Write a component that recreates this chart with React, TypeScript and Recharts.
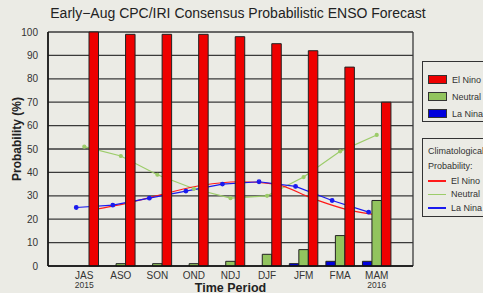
import { ComposedChart, Bar, Line, XAxis, YAxis, CartesianGrid } from 'recharts';

const categories = ['JAS', 'ASO', 'SON', 'OND', 'NDJ', 'DJF', 'JFM', 'FMA', 'MAM'];
const yearLabels = ['2015', '', '', '', '', '', '', '', '2016'];
const yTicks = [0, 10, 20, 30, 40, 50, 60, 70, 80, 90, 100];

// forecast probabilities (%)
const elNino = [100, 99, 99, 99, 98, 95, 92, 85, 70];
const neutral = [0, 1, 1, 1, 2, 5, 7, 13, 28];
const laNina = [0, 0, 0, 0, 0, 0, 1, 2, 2];

// climatological probabilities (%)
const climElNino = [24, 27, 31, 34.5, 36, 35, 29, 24, 21.5];
const climNeutral = [51, 47, 39, 33, 29, 30, 38, 49, 56];
const climLaNina = [25, 26, 29, 32, 35, 36, 34, 28, 23];

const RED = '#ee0000';
const GREEN = '#92c45e';
const BLUE = '#0000dd';
const LRED = '#ff1a1a';
const LGREEN = '#9ccc6a';
const LBLUE = '#1a1aee';
const BG = '#ebebe5';
const FONT = '"Liberation Sans", Arial, sans-serif';

const data = categories.map((name, i) => ({
  name,
  year: yearLabels[i],
  elNino: elNino[i],
  neutral: neutral[i],
  laNina: laNina[i],
}));

// lines are drawn slightly offset from the group centre, as in the original
const lineData = (vals: number[], shift: number) => vals.map((y, i) => ({ x: i + shift, y }));

const XTick = (props: any) => {
  const { x, y, payload, index } = props;
  return (
    <g>
      <text x={x} y={y + 13} textAnchor="middle" fontSize={10} fill="#333" fontFamily={FONT}>
        {payload.value}
      </text>
      <text x={x} y={y + 21.5} textAnchor="middle" fontSize={8.5} fill="#333" fontFamily={FONT}>
        {yearLabels[index]}
      </text>
    </g>
  );
};

const boxStyle: React.CSSProperties = {
  position: 'absolute',
  left: 422,
  width: 80,
  border: '1px solid #333',
  background: BG,
  fontFamily: FONT,
  fontSize: 9,
  color: '#333',
  boxSizing: 'border-box',
};

function BarLegend() {
  const items = [
    { label: 'El Nino', color: RED },
    { label: 'Neutral', color: GREEN },
    { label: 'La Nina', color: BLUE },
  ];
  return (
    <div style={{ ...boxStyle, top: 61, height: 61, paddingTop: 9 }}>
      {items.map((it) => (
        <div key={it.label} style={{ display: 'flex', alignItems: 'center', height: 17 }}>
          <span style={{ display: 'inline-block', marginLeft: 5, width: 17, height: 7, background: it.color, border: '1px solid #333' }} />
          <span style={{ marginLeft: 5 }}>{it.label}</span>
        </div>
      ))}
    </div>
  );
}

function LineLegend() {
  const items = [
    { label: 'El Nino', color: LRED },
    { label: 'Neutral', color: LGREEN },
    { label: 'La Nina', color: LBLUE },
  ];
  return (
    <div style={{ ...boxStyle, top: 138, height: 79, paddingTop: 5 }}>
      <div style={{ marginLeft: 5, height: 15, lineHeight: '15px' }}>Climatological</div>
      <div style={{ marginLeft: 5, height: 15, lineHeight: '15px' }}>Probability:</div>
      {items.map((it) => (
        <div key={it.label} style={{ display: 'flex', alignItems: 'center', height: 13.5 }}>
          <span style={{ display: 'inline-block', marginLeft: 5, width: 18, height: 1.5, background: it.color }} />
          <span style={{ marginLeft: 5 }}>{it.label}</span>
        </div>
      ))}
    </div>
  );
}

export default function App() {
  return (
    <div style={{ position: 'absolute', left: 0, top: 0, width: 483, height: 293, background: BG, overflow: 'hidden' }}>
      <div
        style={{
          position: 'absolute',
          left: 0,
          top: 5,
          width: 476,
          textAlign: 'center',
          fontFamily: FONT,
          fontSize: 14,
          color: '#222',
        }}
      >
        Early−Aug CPC/IRI Consensus Probabilistic ENSO Forecast
      </div>
      <ComposedChart
        width={483}
        height={293}
        data={data}
        margin={{ top: 32, right: 70, bottom: 0, left: 0 }}
        barGap={0}
        style={{ position: 'absolute', left: 0, top: 0 }}
      >
        <CartesianGrid
          stroke="#3a3a3a"
          strokeWidth={1.3}
          verticalCoordinatesGenerator={({ offset }: any) => [offset.left, offset.left + offset.width]}
        />
        <XAxis
          dataKey="name"
          padding={{ left: 18, right: 18 }}
          height={27}
          tickLine={false}
          tickSize={0}
          tickMargin={0}
          interval={0}
          tick={<XTick />}
          axisLine={{ stroke: '#111', strokeWidth: 1.5 }}
          label={{
            content: ({ viewBox }: any) => (
              <text
                x={viewBox.x + viewBox.width / 2}
                y={viewBox.y + 25.5}
                textAnchor="middle"
                fontSize={12.5}
                fontWeight="bold"
                fill="#222"
                fontFamily={FONT}
              >
                Time Period
              </text>
            ),
          }}
        />
        <XAxis
          xAxisId="num"
          dataKey="x"
          type="number"
          domain={[-0.5, 8.5]}
          padding={{ left: 18, right: 18 }}
          orientation="top"
          height={0}
          tick={false}
          axisLine={{ stroke: '#111', strokeWidth: 1.5 }}
          allowDataOverflow
        />
        <YAxis
          domain={[0, 100]}
          ticks={yTicks}
          width={48}
          tickLine={false}
          tickMargin={4}
          axisLine={{ stroke: '#111', strokeWidth: 1.5 }}
          tick={{ fontSize: 10, fill: '#333', fontFamily: FONT }}
          label={{
            content: ({ viewBox }: any) => (
              <text
                x={17}
                y={viewBox.y + viewBox.height / 2 - 10}
                transform={`rotate(-90, 17, ${viewBox.y + viewBox.height / 2 - 10})`}
                textAnchor="middle"
                dominantBaseline="central"
                fontSize={12}
                fontWeight="bold"
                fill="#222"
                fontFamily={FONT}
              >
                Probability (%)
              </text>
            ),
          }}
        />
        <Line
          xAxisId="num"
          data={lineData(climNeutral, 0)}
          dataKey="y"
          type="linear"
          stroke={LGREEN}
          strokeWidth={1.2}
          dot={{ r: 1.5, fill: LGREEN, stroke: LGREEN }}
          zIndex={250}
          isAnimationActive={false}
        />
        <Line
          xAxisId="num"
          data={lineData(climElNino, 0.22)}
          dataKey="y"
          type="monotone"
          stroke={LRED}
          strokeWidth={1.2}
          dot={false}
          zIndex={250}
          isAnimationActive={false}
        />
        <Line
          xAxisId="num"
          data={lineData(climLaNina, -0.22)}
          dataKey="y"
          type="linear"
          stroke={LBLUE}
          strokeWidth={1.2}
          dot={{ r: 1.8, fill: LBLUE, stroke: LBLUE }}
          zIndex={250}
          isAnimationActive={false}
        />
        <Bar dataKey="laNina" fill={BLUE} stroke="#222" strokeWidth={1} barSize={9.5} isAnimationActive={false} />
        <Bar dataKey="neutral" fill={GREEN} stroke="#222" strokeWidth={1} barSize={9.5} isAnimationActive={false} />
        <Bar dataKey="elNino" fill={RED} stroke="#222" strokeWidth={1} barSize={9.5} isAnimationActive={false} />
      </ComposedChart>
      <BarLegend />
      <LineLegend />
    </div>
  );
}
